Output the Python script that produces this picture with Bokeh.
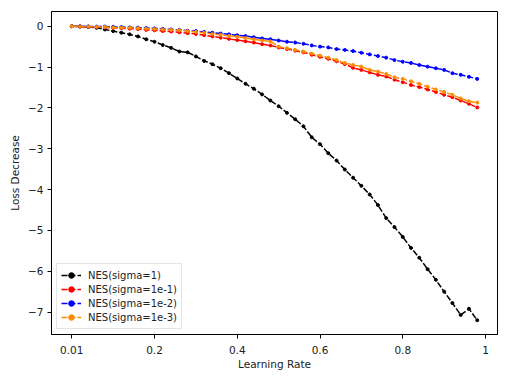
from bokeh.plotting import figure
from bokeh.models import Range1d, FixedTicker, Legend
from bokeh.embed import file_html
from bokeh.resources import INLINE

x_tick_labels = ["0.01", "0.2", "0.4", "0.6", "0.8", "1"]
x_tick_pos = [0, 10, 20, 30, 40, 50]
y_ticks = [0, -1, -2, -3, -4, -5, -6, -7]

black = [0, -0.01, -0.02, -0.04, -0.08, -0.12, -0.16, -0.20, -0.25, -0.32,
         -0.38, -0.46, -0.53, -0.62, -0.64, -0.74, -0.85, -0.93, -1.03, -1.15,
         -1.28, -1.41, -1.53, -1.67, -1.82, -1.96, -2.12, -2.28, -2.45, -2.72,
         -2.89, -3.11, -3.29, -3.51, -3.71, -3.91, -4.12, -4.38, -4.70, -4.92,
         -5.16, -5.43, -5.67, -5.95, -6.21, -6.50, -6.78, -7.07, -6.92, -7.20]
red = [0, -0.01, -0.015, -0.02, -0.03, -0.04, -0.05, -0.06, -0.07, -0.09,
       -0.10, -0.12, -0.13, -0.15, -0.17, -0.19, -0.22, -0.25, -0.28, -0.31,
       -0.34, -0.37, -0.40, -0.44, -0.47, -0.52, -0.56, -0.60, -0.64, -0.70,
       -0.75, -0.80, -0.86, -0.93, -1.02, -1.07, -1.13, -1.19, -1.23, -1.31,
       -1.37, -1.44, -1.49, -1.55, -1.61, -1.68, -1.74, -1.82, -1.90, -1.99]
blue = [0, 0, -0.005, -0.01, -0.01, -0.015, -0.02, -0.03, -0.035, -0.045,
        -0.055, -0.065, -0.08, -0.09, -0.11, -0.12, -0.14, -0.16, -0.18, -0.20,
        -0.22, -0.24, -0.27, -0.30, -0.32, -0.35, -0.38, -0.40, -0.43, -0.47,
        -0.50, -0.52, -0.56, -0.58, -0.61, -0.65, -0.69, -0.73, -0.77, -0.83,
        -0.87, -0.90, -0.95, -0.99, -1.03, -1.07, -1.15, -1.19, -1.24, -1.29]
orange = [0, -0.005, -0.01, -0.015, -0.02, -0.03, -0.035, -0.04, -0.05, -0.06,
          -0.07, -0.08, -0.09, -0.10, -0.12, -0.14, -0.16, -0.19, -0.21, -0.24,
          -0.26, -0.29, -0.32, -0.35, -0.37, -0.50, -0.54, -0.58, -0.62, -0.67,
          -0.72, -0.77, -0.83, -0.90, -0.95, -0.99, -1.07, -1.11, -1.17, -1.25,
          -1.29, -1.35, -1.41, -1.48, -1.55, -1.61, -1.68, -1.77, -1.84, -1.87]

series = [
    ("NES(sigma=1)", black, "black"),
    ("NES(sigma=1e-1)", red, "red"),
    ("NES(sigma=1e-2)", blue, "blue"),
    ("NES(sigma=1e-3)", orange, "#ff8c00"),
]

xs = list(range(len(black)))

p = figure(width=511, height=372, output_backend="svg", toolbar_location=None,
           x_range=Range1d(-2.45, 51.45), y_range=Range1d(-7.55, 0.36),
           min_border_left=51, min_border_top=11, min_border_right=14, min_border_bottom=0)
p.background_fill_color = "white"
p.border_fill_color = "white"
p.outline_line_color = "black"
p.outline_line_width = 1
p.xgrid.visible = False
p.ygrid.visible = False

items = []
for name, ys, col in series:
    r1 = p.line(xs, ys, line_color=col, line_width=1.5, line_dash="6 2")
    r2 = p.scatter(xs, ys, size=3, line_width=1, fill_color=col, line_color=col, marker="circle")
    items.append((name, [r1, r2]))

legend = Legend(items=items, location="bottom_left")
legend.label_text_font = "DejaVu Sans"
legend.label_text_font_size = "10px"
legend.label_text_color = "#222222"
legend.glyph_width = 20
legend.glyph_height = 14
legend.label_height = 14
legend.spacing = 0
legend.padding = 4
legend.margin = 5
legend.label_standoff = 7
legend.border_line_color = "#cccccc"
legend.border_line_width = 1
legend.background_fill_alpha = 0.8
p.add_layout(legend)

for ax in (p.xaxis[0], p.yaxis[0]):
    ax.axis_line_color = "black"
    ax.major_tick_line_color = "black"
    ax.major_tick_out = 4
    ax.major_tick_in = 0
    ax.minor_tick_line_color = None
    ax.major_label_text_font = "DejaVu Sans"
    ax.major_label_text_font_size = "10.5px"
    ax.major_label_text_color = "#222222"
    ax.axis_label_text_font = "DejaVu Sans"
    ax.axis_label_text_font_size = "10.5px"
    ax.axis_label_text_font_style = "normal"
    ax.axis_label_text_color = "#222222"
    ax.major_label_standoff = 4
    ax.axis_label_standoff = 4

p.xaxis[0].major_label_standoff = 7
p.xaxis[0].axis_label_standoff = 1
p.xaxis[0].ticker = FixedTicker(ticks=x_tick_pos)
p.xaxis[0].major_label_overrides = {pos: lab for pos, lab in zip(x_tick_pos, x_tick_labels)}
p.xaxis[0].axis_label = "Learning Rate"

p.yaxis[0].ticker = FixedTicker(ticks=y_ticks)
p.yaxis[0].major_label_overrides = {t: (str(t) if t >= 0 else "\u2212" + str(-t)) for t in y_ticks}
p.yaxis[0].axis_label = "Loss Decrease"

open("out.html", "w").write(file_html(p, INLINE))
